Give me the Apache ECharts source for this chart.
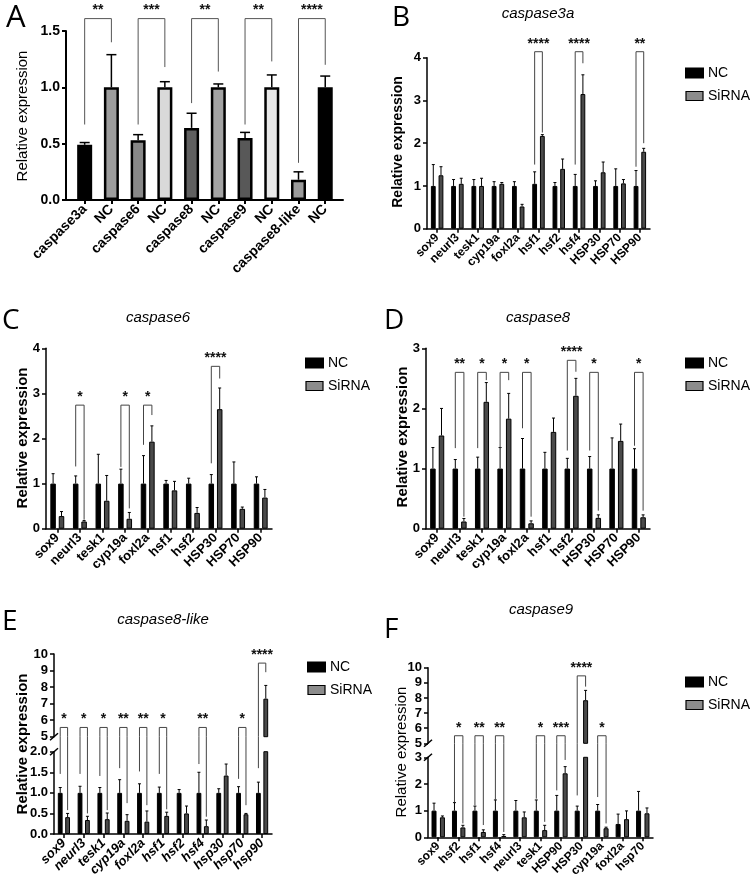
<!DOCTYPE html>
<html>
<head>
<meta charset="utf-8">
<script src="https://cdn.jsdelivr.net/npm/echarts@6/dist/echarts.min.js"></script>
<style>
  html, body { margin: 0; padding: 0; background: #fff; }
  #main { width: 750px; height: 892px; }
</style>
</head>
<body>
<div id="main"></div>
<script>
// ---- data ----
// A: knockdown of each caspase vs NC
const aCats = ['caspase3a', 'NC', 'caspase6', 'NC', 'caspase8', 'NC', 'caspase9', 'NC', 'caspase8-like', 'NC'];
const aVals = [0.49, 1, 0.53, 1, 0.64, 1, 0.55, 1, 0.18, 1];
const aErr  = [0.51, 1.29, 0.58, 1.05, 0.77, 1.03, 0.60, 1.11, 0.25, 1.10];
// [category, bracket level, left leg end, right leg end, label]
const aSig = [[0, 1.61, 0.67, 1.40, '**'], [2, 1.61, 0.67, 1.18, '***'], [4, 1.61, 0.86, 1.14, '**'],
              [6, 1.61, 0.67, 1.23, '**'], [8, 1.61, 0.33, 1.20, '****']];

// B: caspase3a
const bCats  = ['sox9', 'neurl3', 'tesk1', 'cyp19a', 'foxl2a', 'hsf1', 'hsf2', 'hsf4', 'HSP30', 'HSP70', 'HSP90'];
const bNC    = [1, 1, 1, 1, 1, 1.05, 1, 1, 1, 1, 1];
const bNCErr = [1.50, 1.15, 1.15, 1.10, 1.10, 1.33, 1.08, 1.27, 1.12, 1.40, 1.36];
const bSi    = [1.25, 1.05, 1.00, 1.05, 0.52, 2.17, 1.40, 3.15, 1.32, 1.06, 1.80];
const bSiErr = [1.45, 1.18, 1.18, 1.08, 0.57, 2.20, 1.63, 3.60, 1.56, 1.15, 1.88];
const bSig   = [[5, 4.14, 1.50, 2.25, '****'], [7, 4.14, 1.50, 3.87, '****'], [10, 4.14, 1.45, 2.00, '**']];

// C: caspase6
const cCats  = ['sox9', 'neurl3', 'tesk1', 'cyp19a', 'foxl2a', 'hsf1', 'hsf2', 'HSP30', 'HSP70', 'HSP90'];
const cNC    = [1, 1, 1, 1, 1, 1, 1, 1, 1, 1];
const cNCErr = [1.22, 1.17, 1.65, 1.32, 1.62, 1.07, 1.12, 1.20, 1.48, 1.15];
const cSi    = [0.28, 0.16, 0.62, 0.22, 1.93, 0.85, 0.35, 2.65, 0.44, 0.69];
const cSiErr = [0.38, 0.18, 1.18, 0.36, 2.28, 1.05, 0.47, 3.12, 0.48, 0.87];
const cSig   = [[1, 2.74, 1.38, 0.20, '*'], [3, 2.74, 1.37, 0.45, '*'], [4, 2.74, 1.86, 2.52, '*'],
                [7, 3.60, 1.45, 3.33, '****']];

// D: caspase8
const dCats  = ['sox9', 'neurl3', 'tesk1', 'cyp19a', 'foxl2a', 'hsf1', 'hsf2', 'HSP30', 'HSP70', 'HSP90'];
const dNC    = [1, 1, 1, 1, 1, 1, 1, 1, 1, 1];
const dNCErr = [1.35, 1.15, 1.19, 1.35, 1.50, 1.27, 1.17, 1.20, 1.51, 1.33];
const dSi    = [1.55, 0.12, 2.11, 1.83, 0.09, 1.61, 2.21, 0.18, 1.46, 0.19];
const dSiErr = [2.00, 0.17, 2.43, 2.25, 0.13, 1.84, 2.50, 0.23, 1.74, 0.23];
const dSig   = [[1, 2.60, 1.34, 0.20, '**'], [2, 2.60, 1.34, 2.47, '*'], [3, 2.60, 1.34, 2.47, '*'],
                [4, 2.60, 1.67, 0.20, '*'], [6, 2.80, 1.30, 2.61, '****'], [7, 2.60, 1.30, 0.30, '*'],
                [9, 2.60, 1.38, 0.30, '*']];

// E: caspase8-like (broken axis)
const eCats  = ['sox9', 'neurl3', 'tesk1', 'cyp19a', 'foxl2a', 'hsf1', 'hsf2', 'hsf4', 'hsp30', 'hsp70', 'hsp90'];
const eNC    = [1, 1, 1, 1, 1, 1, 1, 1, 1, 1, 1];
const eNCErr = [1.13, 1.16, 1.13, 1.32, 1.22, 1.14, 1.08, 1.50, 1.10, 1.15, 1.26];
const eSi    = [0.41, 0.34, 0.36, 0.32, 0.30, 0.44, 0.50, 0.19, 1.42, 0.48, 7.30];
const eSiErr = [0.50, 0.43, 0.51, 0.47, 0.56, 0.53, 0.68, 0.34, 1.70, 0.50, 8.10];
const eSig   = [[0, 5.56, 1.46, 0.58, '*'], [1, 5.56, 1.46, 0.50, '*'], [2, 5.56, 1.41, 0.58, '*'],
                [3, 5.56, 1.60, 0.75, '**'], [4, 5.56, 1.52, 0.70, '**'], [5, 5.56, 1.46, 0.60, '*'],
                [7, 5.56, 1.70, 0.42, '**'], [9, 5.56, 1.34, 0.70, '*'], [10, 9.45, 1.60, 8.90, '****']];

// F: caspase9 (broken axis)
const fCats  = ['sox9', 'hsf2', 'hsf1', 'hsf4', 'neurl3', 'tesk1', 'HSP90', 'HSP30', 'cyp19a', 'foxl2a', 'hsp70'];
const fNC    = [1, 1, 1, 1, 1, 1, 1, 1, 1, 0.5, 1];
const fNCErr = [1.28, 1.30, 1.17, 1.40, 1.38, 1.40, 1.57, 1.17, 1.23, 0.87, 1.72];
const fSi    = [0.75, 0.37, 0.20, 0.05, 0.75, 0.27, 2.40, 7.85, 0.34, 0.68, 0.90];
const fSiErr = [0.80, 0.45, 0.28, 0.10, 0.95, 0.45, 2.65, 8.50, 0.38, 0.99, 1.10];
const fSig   = [[1, 5.5, 1.32, 0.52, '*'], [2, 5.5, 1.20, 0.46, '**'], [3, 5.5, 1.39, 0.20, '**'],
                [5, 5.5, 1.45, 0.58, '*'], [6, 5.5, 1.76, 2.90, '***'], [7, 9.46, 1.57, 8.75, '****'],
                [8, 5.5, 1.51, 0.52, '*']];

// bar fills of panel A
const aFill = ['#000000', '#9c9c9c', '#888888', '#d9d9d9', '#606060', '#a3a3a3', '#585858', '#e8e8e8', '#9a9a9a', '#000000'];

const FONT = '"Liberation Sans", Arial, sans-serif';
const option = {
  animation: false, backgroundColor: '#fff',
  grid: [], xAxis: [], yAxis: [], series: [], legend: [], graphic: []
};

function addGrid(r) { option.grid.push({ left: r.left, top: r.top, width: r.width, height: r.height }); return option.grid.length - 1; }
function addX(ax) { option.xAxis.push(ax); return option.xAxis.length - 1; }
function addY(ax) { option.yAxis.push(ax); return option.yAxis.length - 1; }

function valueY(gi, s, o) {
  return {
    type: 'value', gridIndex: gi, min: s.min, max: s.max, interval: s.interval,
    axisLine: { show: true, onZero: false, lineStyle: { color: '#000', width: o.axisW } },
    axisTick: { show: true, length: 4, lineStyle: { color: '#000', width: o.axisW } },
    axisLabel: { color: '#000', fontFamily: FONT, fontWeight: 'bold', fontSize: o.tickSize, margin: 6,
                 formatter: s.fmt || (v => String(v)) },
    splitLine: { show: false }
  };
}
function catX(gi, cats, o) {
  return {
    type: 'category', gridIndex: gi, data: cats,
    axisLine: { show: o.line !== false, onZero: false, lineStyle: { color: '#000', width: o.axisW } },
    axisTick: { show: true, alignWithLabel: true, length: 4, lineStyle: { color: '#000', width: o.axisW } },
    axisLabel: { interval: 0, rotate: 45, color: '#000', fontFamily: FONT, fontWeight: 'bold',
                 fontStyle: o.italic ? 'italic' : 'normal', fontSize: o.labelSize, margin: 7 }
  };
}

// upward error bars, only the part inside [lo, hi]
function errSeries(xi, yi, vals, errs, off, cap, lw, lo, hi) {
  return {
    type: 'custom', xAxisIndex: xi, yAxisIndex: yi, z: 3, silent: true,
    data: vals.map((v, i) => [i, v, errs[i]]),
    renderItem(params, api) {
      const i = api.value(0), v = api.value(1), e = api.value(2);
      if (e <= lo || v >= hi) return null;
      const p0 = api.coord([i, Math.max(v, lo)]);
      const p1 = api.coord([i, Math.min(e, hi)]);
      const x = p0[0] + off;
      const st = { stroke: '#000', lineWidth: lw };
      const kids = [{ type: 'line', shape: { x1: x, y1: p0[1], x2: x, y2: p1[1] }, style: st }];
      if (e <= hi) kids.push({ type: 'line', shape: { x1: x - cap / 2, y1: p1[1], x2: x + cap / 2, y2: p1[1] }, style: st });
      return { type: 'group', children: kids };
    }
  };
}

// significance brackets
function bracketSeries(xi, yi, list, m, seg) {
  return {
    type: 'custom', xAxisIndex: xi, yAxisIndex: yi, z: 4, silent: true,
    data: list.map(b => [b[0], b[1], b[2], b[3]]),
    renderItem(params, api) {
      const b = list[params.dataIndex];
      const c = b[0];
      let xs;
      if (m.adjacent) xs = [api.coord([c, 0])[0], api.coord([c + 1, 0])[0]];
      else { const cx = api.coord([c, 0])[0]; xs = [cx - m.off, cx + m.off]; }
      const st = { stroke: m.color, lineWidth: m.lw };
      const kids = [];
      const ends = [b[2], b[3]];
      if (seg.part !== 'bottom') {
        const yl = api.coord([c, b[1]])[1];
        kids.push({ type: 'line', shape: { x1: xs[0], y1: yl, x2: xs[1], y2: yl }, style: st });
        ends.forEach((e, k) => {
          const ye = api.coord([c, Math.max(e, seg.lo)])[1];
          kids.push({ type: 'line', shape: { x1: xs[k], y1: yl, x2: xs[k], y2: ye }, style: st });
        });
        kids.push({ type: 'text', x: (xs[0] + xs[1]) / 2, y: yl - m.starDy,
          style: { text: b[4], font: m.starFont, fill: '#111', textAlign: 'center', textVerticalAlign: 'middle' } });
      } else {
        ends.forEach((e, k) => {
          if (e >= seg.hi) return;
          const ye = api.coord([c, e])[1];
          const yt = api.coord([c, seg.hi])[1] - seg.gapPx;
          kids.push({ type: 'line', shape: { x1: xs[k], y1: yt, x2: xs[k], y2: ye }, style: st });
        });
      }
      return { type: 'group', children: kids };
    }
  };
}

function text(x, y, str, font, extra) {
  option.graphic.push(Object.assign({
    type: 'text', x: x, y: y, silent: true,
    style: { text: str, font: font, fill: '#000', textAlign: 'center', textVerticalAlign: 'middle' }
  }, extra || {}));
}
function yName(x, y, bold, size) {
  text(x, y, 'Relative expression', (bold ? 'bold ' : '') + size + 'px ' + FONT, { rotation: Math.PI / 2 });
}
function letter(x, y, ch, size) {
  option.graphic.push({ type: 'text', x: x, y: y, silent: true,
    style: { text: ch, font: size + 'px "Open Sans", "Noto Sans", sans-serif', fill: '#000', textAlign: 'left', textVerticalAlign: 'middle' } });
}
function slash(x, y) {
  option.graphic.push({ type: 'line', silent: true, shape: { x1: x - 4, y1: y + 3.5, x2: x + 4, y2: y - 3.5 },
    style: { stroke: '#000', lineWidth: 1.5 } });
}

// ---- panel A ----
{
  const frame = addGrid({ left: 66, top: 31, width: 277, height: 169 });
  addX({ type: 'value', gridIndex: frame, min: 0, max: 1,
    axisLine: { show: true, onZero: false, lineStyle: { color: '#000', width: 2 } },
    axisTick: { show: false }, axisLabel: { show: false }, splitLine: { show: false } });
  addY(valueY(frame, { min: 0, max: 1.5, interval: 0.5, fmt: v => v.toFixed(1) }, { axisW: 2, tickSize: 14 }));
  const g = addGrid({ left: 71.3, top: 31, width: 267.3, height: 169 });
  const xi = addX(catX(g, aCats, { axisW: 2, labelSize: 14, line: false }));
  const yi = addY({ type: 'value', gridIndex: g, min: 0, max: 1.5, show: false });
  option.series.push(
    { type: 'bar', name: 'A', xAxisIndex: xi, yAxisIndex: yi, barWidth: 15,
      data: aVals.map((v, i) => ({ value: v, itemStyle: { color: aFill[i] } })),
      itemStyle: { borderColor: '#000', borderWidth: 2.5 } },
    errSeries(xi, yi, aVals, aErr, 0, 10, 1.5, -1e9, 1e9),
    bracketSeries(xi, yi, aSig, { adjacent: true, color: '#555', lw: 1, starDy: 8, starFont: 'bold 14px ' + FONT },
      { part: 'all', lo: -1e9, hi: 1e9 })
  );
  yName(23, 116, false, 15);
  letter(6, 18, 'A', 31);
}

// ---- grouped panels B-F ----
function grouped(p) {
  const gapPct = ((2 * p.off - p.bw) / p.bw * 100).toFixed(0) + '%';
  const broken = p.segs.length > 1;
  p.segs.forEach((s, k) => {
    const gi = addGrid(s);
    const isBottom = k === p.segs.length - 1;
    const xa = catX(gi, p.cats, p);
    if (!isBottom) xa.show = false;
    const xi = addX(xa);
    const yi = addY(valueY(gi, s, p));
    const lo = broken && !isBottom ? s.min : -1e9;
    const hi = broken && isBottom ? s.max : 1e9;
    const keep = arr => arr.map(v => (v > lo ? v : '-'));
    const gapPx = broken ? s.top - (p.segs[0].top + p.segs[0].height) : 0;
    option.series.push(
      { type: 'bar', name: 'NC', xAxisIndex: xi, yAxisIndex: yi, data: keep(p.nc), barWidth: p.bw, barGap: gapPct,
        itemStyle: { color: '#000', borderColor: '#000', borderWidth: 1 } },
      { type: 'bar', name: 'SiRNA', xAxisIndex: xi, yAxisIndex: yi, data: keep(p.si), barWidth: p.bw, barGap: gapPct,
        itemStyle: { color: '#4a4a4a', borderColor: '#000', borderWidth: 1 } },
      errSeries(xi, yi, p.nc, p.ncErr, -p.off, 3, 1, lo, hi),
      errSeries(xi, yi, p.si, p.siErr, p.off, 3, 1, lo, hi),
      bracketSeries(xi, yi, p.sig, { off: p.off, color: '#444', lw: 1, starDy: 8, starFont: 'bold 14px ' + FONT },
        { part: broken ? (k === 0 ? 'top' : 'bottom') : 'all', lo: lo, hi: hi, gapPx: gapPx })
    );
  });
  if (broken) {
    const ax = p.segs[0].left;
    slash(ax, p.segs[0].top + p.segs[0].height);
    slash(ax, p.segs[1].top);
  }
  option.legend.push({
    orient: 'vertical', left: p.legend[0], top: p.legend[1], padding: 0, itemWidth: 17, itemHeight: 9, itemGap: 9,
    selectedMode: false, icon: 'rect',
    data: ['NC', { name: 'SiRNA', itemStyle: { color: '#8c8c8c', borderColor: '#000', borderWidth: 1.2 } }],
    textStyle: { fontFamily: FONT, fontSize: 14, color: '#000' }
  });
  text(p.title[0], p.title[1], p.name, 'italic 15px ' + FONT);
  yName(p.yName[0], p.yName[1], p.yBold, p.yName[2]);
  letter(p.letter[0], p.letter[1], p.letter[2], 28);
}

grouped({ name: 'caspase3a', cats: bCats, nc: bNC, ncErr: bNCErr, si: bSi, siErr: bSiErr, sig: bSig,
  segs: [{ left: 427, top: 57.7, width: 223, height: 171, min: 0, max: 4, interval: 1 }],
  bw: 4.8, off: 3.85, axisW: 1.5, tickSize: 13, labelSize: 12,
  legend: [685, 66], title: [538, 14], yName: [398, 142, 14], yBold: true, letter: [392, 18, 'B'] });

grouped({ name: 'caspase6', cats: cCats, nc: cNC, ncErr: cNCErr, si: cSi, siErr: cSiErr, sig: cSig,
  segs: [{ left: 46, top: 348.3, width: 226, height: 180.4, min: 0, max: 4, interval: 1 }],
  bw: 5.5, off: 4.2, axisW: 1.5, tickSize: 13, labelSize: 13,
  legend: [305, 356], title: [158, 318], yName: [23, 438, 15], yBold: true, letter: [2, 321, 'C'] });

grouped({ name: 'caspase8', cats: dCats, nc: dNC, ncErr: dNCErr, si: dSi, siErr: dSiErr, sig: dSig,
  segs: [{ left: 426, top: 348.3, width: 224, height: 180.4, min: 0, max: 3, interval: 1 }],
  bw: 5.5, off: 4.3, axisW: 1.5, tickSize: 13, labelSize: 13,
  legend: [685, 356], title: [538, 318], yName: [403, 437, 15], yBold: true, letter: [384, 321, 'D'] });

grouped({ name: 'caspase8-like', cats: eCats, nc: eNC, ncErr: eNCErr, si: eSi, siErr: eSiErr, sig: eSig,
  segs: [{ left: 54, top: 654, width: 218, height: 82.7, min: 5, max: 10, interval: 1 },
         { left: 54, top: 751.7, width: 218, height: 82.3, min: 0, max: 2, interval: 0.5, fmt: v => v.toFixed(1) }],
  bw: 4.8, off: 3.7, axisW: 1.5, tickSize: 13, labelSize: 13, italic: true,
  legend: [307, 660], title: [163, 620], yName: [23, 744, 15], yBold: true, letter: [2, 622, 'E'] });

grouped({ name: 'caspase9', cats: fCats, nc: fNC, ncErr: fNCErr, si: fSi, siErr: fSiErr, sig: fSig,
  segs: [{ left: 428, top: 667.7, width: 225, height: 75.6, min: 5, max: 10, interval: 1 },
         { left: 428, top: 757.3, width: 225, height: 80, min: 0, max: 3, interval: 1 }],
  bw: 5, off: 4.2, axisW: 1.5, tickSize: 13, labelSize: 12,
  legend: [685, 675], title: [541, 610], yName: [402, 752, 15], yBold: false, letter: [384, 630, 'F'] });

const chart = echarts.init(document.getElementById('main'));
chart.setOption(option);
</script>
</body>
</html>
